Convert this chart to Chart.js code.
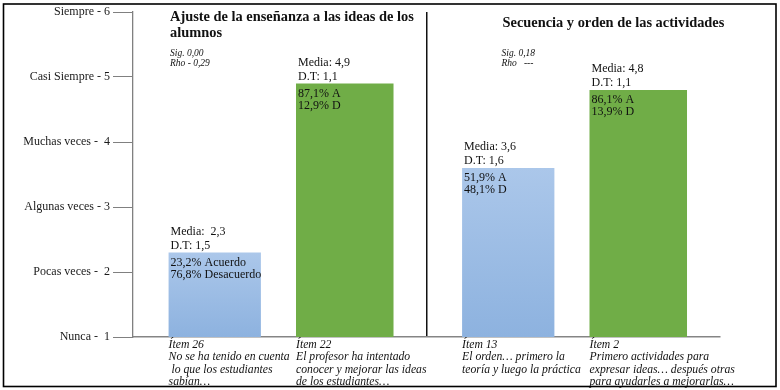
<!DOCTYPE html>
<html><head><meta charset="utf-8">
<script src="https://cdn.jsdelivr.net/npm/chart.js@4"></script>
<style>html,body{margin:0;padding:0;background:#fff}canvas{display:block}</style>
</head><body>
<canvas id="c" width="780" height="390"></canvas>
<script>
// ---- data ----
const categories = ["Ajuste de la enseñanza a las ideas de los alumnos", "Secuencia y orden de las actividades"];
const panelTitleLines = [["Ajuste de la enseñanza a las ideas de los", "alumnos"], ["Secuencia y orden de las actividades"]];
const panelStats = [["Sig. 0,00", "Rho - 0,29"], ["Sig. 0,18", "Rho   ---"]];
const yTickLabels = ["Nunca -  1", "Pocas veces -  2", "Algunas veces - 3", "Muchas veces -  4", "Casi Siempre - 5", "Siempre - 6"];

// first bar of each panel (blue) and second bar (green)
const blueMeans = [2.3, 3.6];
const greenMeans = [4.9, 4.8];
const blueMediaText = [["Media:  2,3", "D.T: 1,5"], ["Media: 3,6", "D.T: 1,6"]];
const greenMediaText = [["Media: 4,9", "D.T: 1,1"], ["Media: 4,8", "D.T: 1,1"]];
const bluePctText = [["23,2% Acuerdo", "76,8% Desacuerdo"], ["51,9% A", "48,1% D"]];
const greenPctText = [["87,1% A", "12,9% D"], ["86,1% A", "13,9% D"]];
const blueItemText = [["Ítem 26", "No se ha tenido en cuenta", " lo que los estudiantes", "sabían…"],
                      ["Ítem 13", "El orden… primero la", "teoría y luego la práctica"]];
const greenItemText = [["Ítem 22", "El profesor ha intentado", "conocer y mejorar las ideas", "de los estudiantes…"],
                       ["Ítem 2", "Primero actividades para", "expresar ideas… después otras", "para ayudarles a mejorarlas…"]];

// ---- drawing ----
const SERIF = "'Liberation Serif', 'Times New Roman', serif";
const mediaTexts = [blueMediaText, greenMediaText];
const pctTexts = [bluePctText, greenPctText];
const itemTexts = [blueItemText, greenItemText];

function blueGradient(ctx) {
  const chart = ctx.chart;
  const area = chart.chartArea;
  if (!area || ctx.raw === undefined) return '#9dbde6';
  const top = chart.scales.y.getPixelForValue(ctx.raw);
  const g = chart.ctx.createLinearGradient(0, top, 0, area.bottom);
  g.addColorStop(0, '#abc7ea');
  g.addColorStop(1, '#8db2df');
  return g;
}

const textPlugin = {
  id: 'texts',
  afterDraw(chart) {
    const c = chart.ctx;
    const area = chart.chartArea;
    const xs = chart.scales.x;
    c.save();
    c.fillStyle = '#111';
    c.textBaseline = 'middle';
    c.textAlign = 'left';
    // panel titles
    c.font = 'bold 14.4px ' + SERIF;
    const half = (xs.right - xs.left) / 2;
    const titleX = [area.left + 37, area.left + half + 76];
    panelTitleLines.forEach((lines, i) => {
      const y0 = lines.length > 1 ? 17 : 23;
      lines.forEach((t, j) => c.fillText(t, titleX[i], y0 + j * 16));
    });
    // stats
    c.font = 'italic 9.5px ' + SERIF;
    const statX = [area.left + 37, area.left + half + 75];
    panelStats.forEach((lines, i) => {
      lines.forEach((t, j) => c.fillText(t, statX[i], 53 + j * 10.5));
    });
    // bar texts
    [0, 1].forEach(ds => {
      const meta = chart.getDatasetMeta(ds);
      meta.data.forEach((el, i) => {
        const left = el.x - el.width / 2;
        c.font = '12px ' + SERIF;
        c.fillStyle = '#111';
        mediaTexts[ds][i].forEach((t, j) => c.fillText(t, left + 2, el.y - 21 + j * 14));
        pctTexts[ds][i].forEach((t, j) => c.fillText(t, left + 2, el.y + 10 + j * 12));
        c.font = 'italic 11.7px ' + SERIF;
        itemTexts[ds][i].forEach((t, j) => c.fillText(t, left, area.bottom + 8 + j * 12.4));
      });
    });
    // outer frame
    c.strokeStyle = '#000';
    c.lineWidth = 1.6;
    c.strokeRect(3.5, 4, 772.5, 382.5);
    c.restore();
  }
};

new Chart(document.getElementById('c'), {
  type: 'bar',
  data: {
    labels: categories,
    datasets: [
      { data: blueMeans, backgroundColor: blueGradient, barPercentage: 0.71, categoryPercentage: 0.886 },
      { data: greenMeans, backgroundColor: '#70ad47', barPercentage: 0.75, categoryPercentage: 0.886 }
    ]
  },
  options: {
    responsive: false,
    animation: false,
    devicePixelRatio: 1,
    layout: { padding: { left: 0, top: 12, right: 60, bottom: 0 } },
    plugins: { legend: { display: false }, tooltip: { enabled: false }, title: { display: false } },
    scales: {
      x: {
        afterFit(s) { s.height = 53; },
        ticks: { display: false },
        grid: {
          offset: true,
          drawTicks: false,
          color: (ctx) => ctx.index === 1 ? '#111' : 'rgba(0,0,0,0)',
          lineWidth: 1.5
        },
        border: { display: true, color: '#858585', width: 1.5 }
      },
      y: {
        min: 1, max: 6,
        afterFit(s) { s.width = 133; },
        ticks: {
          stepSize: 1,
          padding: 3,
          color: '#1a1a1a',
          font: { family: SERIF, size: 12 },
          callback: (v) => yTickLabels[v - 1]
        },
        grid: { drawOnChartArea: false, drawTicks: true, tickLength: 20, tickColor: '#808080', tickWidth: 1 },
        border: { display: true, color: '#808080', width: 1.3 }
      }
    }
  },
  plugins: [textPlugin]
});
</script>
</body></html>
